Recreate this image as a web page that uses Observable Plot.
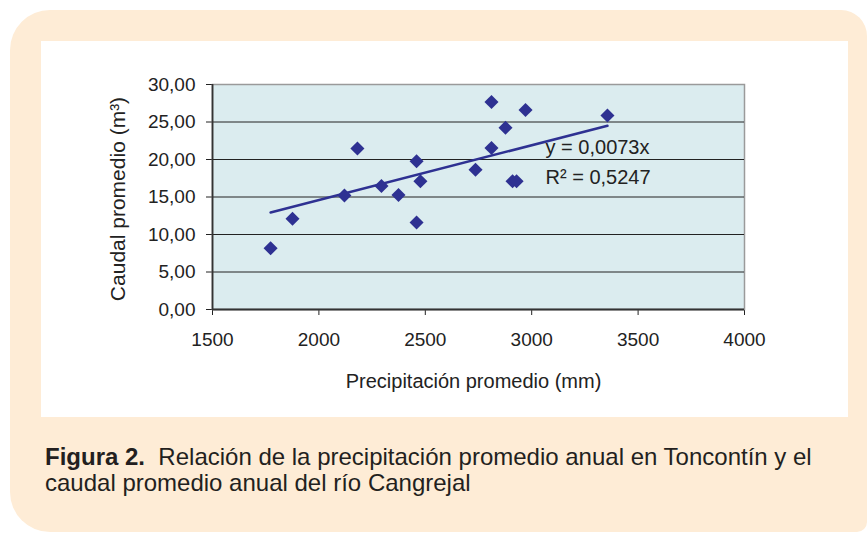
<!DOCTYPE html>
<html><head><meta charset="utf-8">
<script src="https://cdn.jsdelivr.net/npm/d3@7"></script>
<script src="https://cdn.jsdelivr.net/npm/@observablehq/plot@0.6"></script>
<style>
body{margin:0;background:#fff;width:867px;height:533px;overflow:hidden;position:relative;font-family:"Liberation Sans",Arial,Helvetica,sans-serif;}
#box{position:absolute;left:10px;top:10px;width:857px;height:522px;background:#feecd6;border-radius:40px 26px 10px 40px;}
#panel{position:absolute;left:41px;top:41px;width:807px;height:376px;background:#fff;}
#chart{position:absolute;left:41px;top:41px;}
#caption{position:absolute;left:45px;top:444px;font-size:24px;line-height:26.3px;color:#231f20;white-space:nowrap;}
</style></head><body>
<div id="box"></div><div id="panel"></div><div id="chart"></div>
<div id="caption"><b>Figura 2.</b>&nbsp; Relación de la precipitación promedio anual en Toncontín y el<br>caudal promedio anual del río Cangrejal</div>
<script>
// Data
const precipitacion = [1773, 1876, 2120, 2181, 2294, 2374, 2459, 2459, 2477, 2736, 2811, 2811, 2877, 2910, 2929, 2971, 3356];
const caudal        = [8.17, 12.09, 15.2, 21.47, 16.47, 15.27, 19.77, 11.6, 17.1, 18.63, 27.67, 21.53, 24.23, 17.1, 17.1, 26.6, 25.87];
const xTicks = [1500, 2000, 2500, 3000, 3500, 4000];
const yTicks = [0, 5, 10, 15, 20, 25, 30];
const slope = 0.0073;
const eqLines = ["y = 0,0073x", "R² = 0,5247"];
const xTitle = "Precipitación promedio (mm)";
const yTitle = "Caudal promedio (m³)";

const points = precipitacion.map((p, i) => ({x: p, y: caudal[i]}));
const [xmin, xmax] = d3.extent(precipitacion);
const trend = [xmin, xmax].map(x => ({x, y: slope * x}));

const chart = Plot.plot({
  width: 807, height: 376,
  marginLeft: 171, marginRight: 104, marginTop: 43, marginBottom: 108,
  style: {fontFamily: "'Liberation Sans', Arial, sans-serif", fontSize: "19px", color: "#222", background: "transparent"},
  x: {domain: [1500, 4000], ticks: xTicks, tickSize: 6, tickPadding: 17, tickFormat: d => String(d), label: null},
  y: {domain: [0, 30], ticks: yTicks, tickSize: 6, tickPadding: 11, tickFormat: d => d.toFixed(2).replace(".", ","), label: null},
  marks: [
    Plot.frame({fill: "#dbecef", stroke: "#9a9a9a", strokeWidth: 1.5}),
    Plot.ruleY(yTicks.filter(d => d > 0 && d < 30), {stroke: "#222", strokeWidth: 1}),
    Plot.ruleY([0], {stroke: "#333", strokeWidth: 1.8}),
    Plot.ruleX([1500], {stroke: "#333", strokeWidth: 1.8}),
    Plot.line(trend, {x: "x", y: "y", stroke: "#2e3192", strokeWidth: 2.5}),
    Plot.dot(points, {x: "x", y: "y", symbol: "square", rotate: 45, r: 5.6, fill: "#2e3192", stroke: "none"}),
    Plot.text([eqLines[0]], {x: 3065, y: 21.6, text: d => d, textAnchor: "start", fontSize: 20, fill: "#222"}),
    Plot.text([eqLines[1]], {x: 3065, y: 17.6, text: d => d, textAnchor: "start", fontSize: 20, fill: "#222"}),
    Plot.text([xTitle], {frameAnchor: "bottom", text: d => d, textAnchor: "middle", lineAnchor: "middle", dx: -5, dy: 72, fontSize: 20, fill: "#222"}),
    Plot.text([yTitle], {frameAnchor: "left", text: d => d, textAnchor: "middle", lineAnchor: "middle", rotate: -90, dx: -94, dy: 2, fontSize: 21, fill: "#222"})
  ]
});
document.getElementById("chart").appendChild(chart);
</script>
</body></html>
